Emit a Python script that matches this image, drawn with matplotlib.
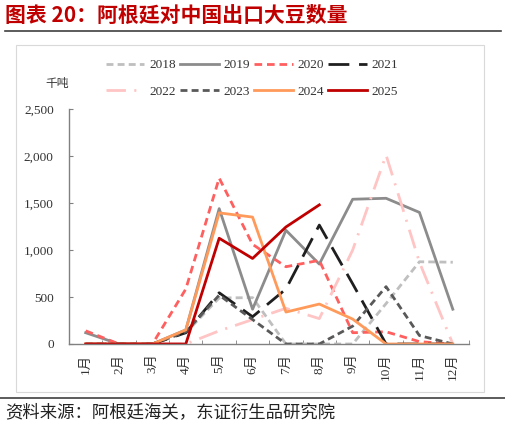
import matplotlib
matplotlib.use('Agg')
import matplotlib.pyplot as plt
from matplotlib.lines import Line2D
from matplotlib.patches import Rectangle
from matplotlib.ticker import FuncFormatter, MultipleLocator

plt.rcParams['lines.scale_dashes'] = False

months = ['1月', '2月', '3月', '4月', '5月', '6月', '7月', '8月', '9月', '10月', '11月', '12月']
years = ['2018', '2019', '2020', '2021', '2022', '2023', '2024', '2025']

# 千吨
y2018 = [0, 0, 0, 120, 490, 493, 0, 0, 0, 430, 875, 870]
y2019 = [120, 0, 0, 150, 1440, 370, 1210, 850, 1540, 1550, 1400, 370]
y2020 = [140, 0, 0, 585, 1765, 1060, 822, 890, 120, 130, 25, 0]
y2021 = [0, 0, 0, 120, 545, 290, 585, 1265, 640, 0, 0, 0]
y2022 = [0, 0, 0, 0, 140, 260, 380, 270, 1000, 2010, 870, 0]
y2023 = [0, 0, 0, 130, 520, 260, 0, 0, 190, 610, 90, 0]
y2024 = [0, 0, 0, 150, 1395, 1350, 340, 425, 265, 0, 0, 0]
y2025 = [0, 0, 0, 0, 1125, 910, 1245, 1480]

series = [y2018, y2019, y2020, y2021, y2022, y2023, y2024, y2025]
colors = ['#BFBFBF', '#8C8C8C', '#FF5F5F', '#1F1F1F', '#FFC4C4', '#595959', '#FF9A5A', '#C00000']
dashes = [(5, 3), None, (5.5, 3.5), (15, 7), (14, 6, 1.5, 6), (5, 3), None, None]

serif = ['Liberation Serif', 'Noto Sans CJK SC']
cjk = ['Noto Sans CJK SC', 'DejaVu Sans']

fig = plt.figure(figsize=(5.06, 4.28), dpi=100)

# frame and separator lines
fig.add_artist(Rectangle((16 / 506, 1 - 392 / 428), 468 / 506, 347 / 428,
                         transform=fig.transFigure, fill=False, edgecolor='#D9D9D9', lw=0.8))
fig.add_artist(Line2D([5 / 506, 501 / 506], [1 - 31 / 428, 1 - 31 / 428],
                      transform=fig.transFigure, color='#404040', lw=1.2))
fig.add_artist(Line2D([0, 1], [1 - 398 / 428, 1 - 398 / 428],
                      transform=fig.transFigure, color='#404040', lw=1.2))

ax = fig.add_axes([69 / 506, 1 - 344 / 428, 400.5 / 506, 235 / 428])

handles = []
for vals, c, d, lab in zip(series, colors, dashes, years):
    x = list(range(len(vals)))
    if d is None:
        ln, = ax.plot(x, vals, color=c, lw=2.0, label=lab)
    else:
        ln, = ax.plot(x, vals, color=c, lw=2.0, label=lab, dashes=d)
    handles.append(ln)

ax.set_xlim(-0.5, 11.5)
ax.set_ylim(0, 2500)
ax.set_xticks(range(12))
ax.set_xticklabels(months, rotation=90, family=serif, fontsize=9.5, color='#333333')
ax.xaxis.set_minor_locator(MultipleLocator(1, offset=0.5))
ax.tick_params(axis='x', which='major', length=0, pad=7)
ax.tick_params(axis='x', which='minor', direction='in', length=3, color='#808080')
ax.yaxis.set_major_locator(MultipleLocator(500))
ax.yaxis.set_major_formatter(FuncFormatter(lambda v, p: f'{int(v):,}'))
ax.tick_params(axis='y', direction='in', length=3, color='#808080', pad=11, labelsize=9.5,
               labelcolor='#333333')
for t in ax.get_yticklabels():
    t.set_family(serif)
for s in ['top', 'right']:
    ax.spines[s].set_visible(False)
for s in ['left', 'bottom']:
    ax.spines[s].set_color('#808080')
    ax.spines[s].set_linewidth(1.0)

order = [0, 4, 1, 5, 2, 6, 3, 7]
leg = fig.legend([handles[i] for i in order], [years[i] for i in order], ncol=4,
                 loc='center', bbox_to_anchor=(252 / 506, 1 - 78.5 / 428), frameon=False,
                 handlelength=2.9, handletextpad=0.35, columnspacing=0.35, labelspacing=1.1,
                 prop={'family': serif, 'size': 9.5})
for t in leg.get_texts():
    t.set_color('#333333')

fig.text(5 / 506, 1 - 15 / 428, '图表 20：阿根廷对中国出口大豆数量', family=cjk, fontsize=15,
         fontweight='bold', color='#C00000', va='center', ha='left')
fig.text(57 / 506, 1 - 83 / 428, '千吨', family=cjk, fontsize=8.5, color='#333333',
         va='center', ha='center')
fig.text(5 / 506, 1 - 412 / 428, '资料来源：阿根廷海关，东证衍生品研究院', family=cjk,
         fontsize=12.5, color='#222222', va='center', ha='left')

fig.savefig('out.png', dpi=100)
